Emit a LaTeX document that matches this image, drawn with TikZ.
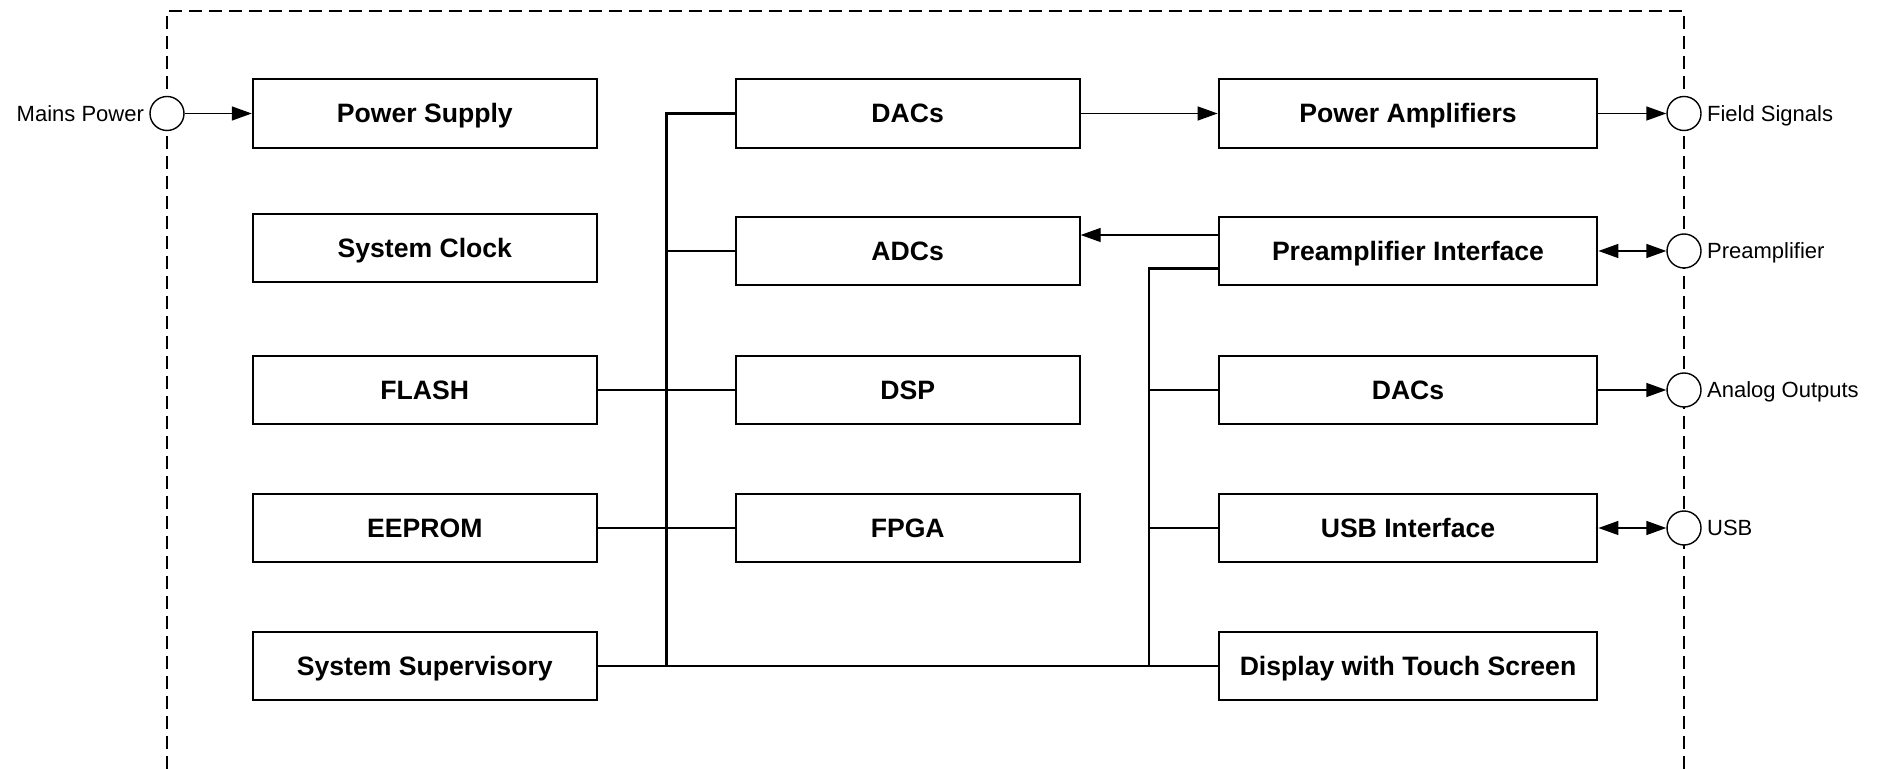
\documentclass[tikz,border=0pt]{standalone}
\usepackage{fontspec}
\setmainfont{Liberation Sans}
\usetikzlibrary{arrows.meta}
\begin{document}
\begin{tikzpicture}[x=0.5pt,y=-0.5pt,
  blk/.style={draw, line width=1pt, minimum width=172pt, minimum height=34.2pt, inner sep=0pt,
    text height=9.5pt, text depth=0pt,
    font=\fontsize{13.3}{16}\selectfont\bfseries},
  wblk/.style={blk, minimum width=189.4pt},
  port/.style={draw, circle, line width=0.7pt, fill=white, minimum size=17pt, inner sep=0pt},
  lbl/.style={font=\fontsize{11}{13}\selectfont, inner sep=2.5pt, text height=7.9pt, text depth=0pt},
  bus/.style={line width=1.2pt},
  tip/.tip={Triangle[length=10pt,width=7pt]},
  arr/.style={line width=0.7pt, -tip},
  biarr/.style={line width=0.7pt, tip-tip},
  frame/.style={line width=0.7pt, dash pattern=on 6.5pt off 3.5pt}]
\useasboundingbox (0,0) rectangle (1879,769);
% system frame
\draw[frame] (167,769) -- (167,11) -- (1684,11) -- (1684,769);
% left column
\node[blk] (ps)  at (424.8,113.5) {Power Supply};
\node[blk] (clk) at (424.8,248) {System Clock};
\node[blk] (flash) at (424.8,390) {FLASH};
\node[blk] (eep) at (424.8,528) {EEPROM};
\node[blk] (sup) at (424.8,665.7) {System Supervisory};
% middle column
\node[blk] (dac1) at (907.7,113.5) {DACs};
\node[blk] (adc)  at (907.7,251) {ADCs};
\node[blk] (dsp)  at (907.7,390) {DSP};
\node[blk] (fpga) at (907.7,528) {FPGA};
% right column
\node[wblk] (pa)   at (1408,113.5) {Power Amplifiers};
\node[wblk] (pre)  at (1408,251) {Preamplifier Interface};
\node[wblk] (dac2) at (1408,390) {DACs};
\node[wblk] (usb)  at (1408,528) {USB Interface};
\node[wblk] (disp) at (1408,665.7) {Display with Touch Screen};
% ports
\node[port] (mains) at (167,113.5) {};
\node[port] (fs) at (1684,113.5) {};
\node[port] (pc) at (1684,251) {};
\node[port] (ao) at (1684,390) {};
\node[port] (uc) at (1684,528) {};
\node[lbl, anchor=east] (mainsl) at (mains.west) {Mains Power};
\node[lbl, anchor=west] (fsl) at (fs.east) {Field Signals};
\node[lbl, anchor=west] (pcl) at (pc.east) {Preamplifier};
\node[lbl, anchor=west] (aol) at (ao.east) {Analog Outputs};
\node[lbl, anchor=west] (ucl) at (uc.east) {USB};
% bus coordinates
\coordinate (lbx) at (666.3,113.5);
\coordinate (rbtop) at (1149.2,268.4);
\coordinate (adcy) at (0,235);
% left bus
\draw[bus] (dac1.west) -- (dac1.west -| lbx) |- (sup.east);
\draw[bus] (sup.east) -- (disp.west);
\draw[bus] (adc.west) -- (adc.west -| lbx);
\draw[bus] (flash.east) -- (dsp.west);
\draw[bus] (eep.east) -- (fpga.west);
% right bus
\draw[bus] (rbtop -| pre.west) -- (rbtop) -- (rbtop |- disp.west);
\draw[bus] (dac2.west) -- (dac2.west -| rbtop);
\draw[bus] (usb.west) -- (usb.west -| rbtop);
% signal arrows
\draw[arr] (mains.east) -- (ps.west);
\draw[arr] (dac1.east) -- (pa.west);
\draw[arr] (pa.east) -- (fs.west);
\draw[arr] (pre.west |- adcy) -- (adc.east |- adcy);
\draw[biarr] (pre.east) -- (pc.west);
\draw[arr] (dac2.east) -- (ao.west);
\draw[biarr] (usb.east) -- (uc.west);
\end{tikzpicture}
\end{document}
